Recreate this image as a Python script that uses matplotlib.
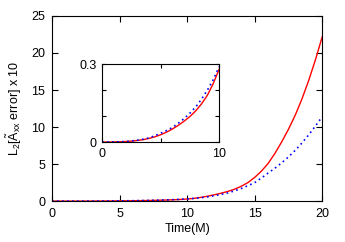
import matplotlib
matplotlib.use('Agg')
import matplotlib.pyplot as plt

plt.rcParams['font.family'] = ['Liberation Sans', 'DejaVu Sans']
plt.rcParams['mathtext.fontset'] = 'custom'
plt.rcParams['mathtext.rm'] = 'Liberation Sans'
plt.rcParams['mathtext.it'] = 'Liberation Sans'

# 数据, 每 0.5 一个点
t = [0, 0.5, 1, 1.5, 2, 2.5, 3, 3.5, 4, 4.5, 5, 5.5, 6, 6.5, 7, 7.5, 8, 8.5, 9, 9.5,
     10, 10.5, 11, 11.5, 12, 12.5, 13, 13.5, 14, 14.5, 15, 15.5, 16, 16.5, 17, 17.5,
     18, 18.5, 19, 19.5, 20]
red = [0, 0.0001, 0.0005, 0.001, 0.002, 0.0035, 0.006, 0.009, 0.014, 0.02, 0.028,
       0.038, 0.05, 0.064, 0.08, 0.098, 0.12, 0.147, 0.18, 0.225,
       0.28, 0.37, 0.5, 0.66, 0.85, 1.06, 1.3, 1.6, 2.0, 2.5, 3.2, 4.05, 5.1, 6.45,
       8.0, 9.7, 11.6, 13.8, 16.3, 19.1, 22.2]
blue = [0, 0.0001, 0.0005, 0.001, 0.002, 0.004, 0.007, 0.011, 0.016, 0.024, 0.034,
        0.044, 0.056, 0.072, 0.09, 0.111, 0.135, 0.165, 0.2, 0.24,
        0.29, 0.36, 0.45, 0.57, 0.72, 0.9, 1.1, 1.38, 1.7, 2.08, 2.5, 3.12, 3.8,
        4.45, 5.17, 5.97, 6.85, 7.85, 8.95, 10.15, 11.4]

# 插图只用 0..10
n_in = t.index(10) + 1
t_in = t[:n_in]
red_in = red[:n_in]
blue_in = blue[:n_in]

fs = 9

fig = plt.figure(figsize=(3.45, 2.42), dpi=100)
ax = fig.add_axes([0.151, 0.169, 0.783, 0.765])
ax.plot(t, red, color='red', lw=1.0)
ax.plot(t, blue, color='blue', lw=1.2, linestyle=(0, (1, 2)))
ax.set_xlim(0, 20)
ax.set_ylim(0, 25)
ax.set_xticks([0, 5, 10, 15, 20])
ax.set_yticks([0, 5, 10, 15, 20, 25])
ax.tick_params(direction='in', top=True, right=True, labelsize=fs, length=4, pad=5)
ax.set_xlabel('Time(M)', fontsize=fs, labelpad=2)
ax.set_ylabel(r'L$_2$[$\tilde{\mathrm{A}}_{\mathrm{xx}}$ error] x 10', fontsize=fs, labelpad=5)

# 插图
ins = fig.add_axes([0.296, 0.413, 0.339, 0.322])
ins.plot(t_in, red_in, color='red', lw=1.0)
ins.plot(t_in, blue_in, color='blue', lw=1.2, linestyle=(0, (1, 2)))
ins.set_xlim(0, 10)
ins.set_ylim(0, 0.3)
ins.set_xticks([0, 5, 10])
ins.set_xticklabels(['0', '', '10'])
ins.set_yticks([0, 0.1, 0.2, 0.3])
ins.set_yticklabels(['0', '', '', '0.3'])
ins.tick_params(direction='in', top=True, right=True, labelsize=fs, length=3, pad=4)

fig.savefig('out.png', dpi=100)
